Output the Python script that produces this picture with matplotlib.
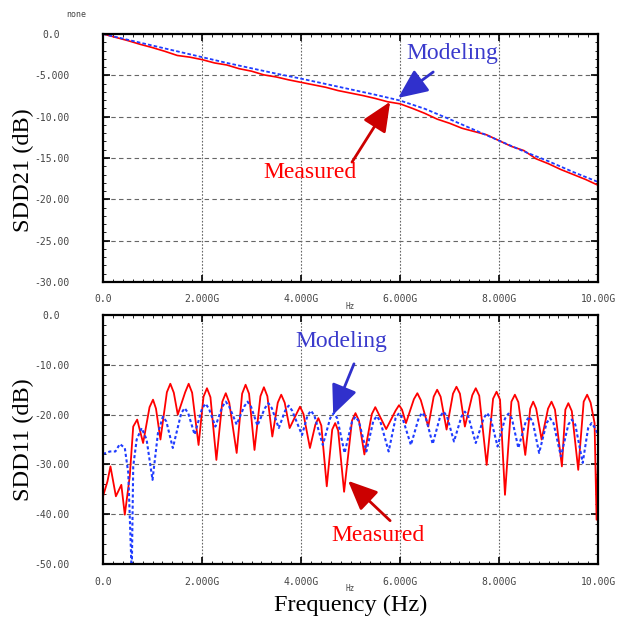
import matplotlib.pyplot as plt
import numpy as np

# --- SDD21 (insertion loss), GHz / dB ---
f21_meas = np.arange(0, 10.01, 0.25)
sdd21_meas = [0.0, -0.4, -0.8, -1.25, -1.65, -2.1, -2.6, -2.8, -3.1, -3.5,
              -3.75, -4.2, -4.5, -4.95, -5.2, -5.55, -5.85, -6.15, -6.45, -6.85,
              -7.15, -7.45, -7.8, -8.2, -8.45, -9.0, -9.6, -10.3, -10.8, -11.4,
              -11.8, -12.2, -12.9, -13.6, -14.1, -15.1, -15.7, -16.4, -17.0, -17.6,
              -18.3]
f21_mod = np.arange(0, 10.01, 0.5)
sdd21_mod = [0.0, -0.7, -1.4, -2.1, -2.8, -3.5, -4.15, -4.8, -5.4, -6.05,
             -6.7, -7.35, -8.05, -9.05, -10.3, -11.6, -12.9, -14.2, -15.4, -16.7,
             -17.9]

# --- SDD11 (return loss), GHz / dB ---
f11_meas = [0.0, 0.09, 0.15, 0.26, 0.37, 0.44, 0.54, 0.61, 0.69, 0.81,
            0.94, 1.01, 1.07, 1.16, 1.29, 1.36, 1.43, 1.51, 1.66, 1.73,
            1.80, 1.93, 2.03, 2.10, 2.17, 2.29, 2.41, 2.48, 2.55, 2.70,
            2.81, 2.88, 2.95, 3.06, 3.18, 3.25, 3.32, 3.42, 3.53, 3.60,
            3.67, 3.77, 3.91, 3.98, 4.05, 4.18, 4.29, 4.35, 4.41, 4.52,
            4.63, 4.69, 4.75, 4.87, 5.03, 5.10, 5.17, 5.28, 5.43, 5.50,
            5.57, 5.72, 5.91, 5.98, 6.04, 6.12, 6.28, 6.35, 6.42, 6.57,
            6.68, 6.75, 6.82, 6.94, 7.07, 7.14, 7.21, 7.31, 7.46, 7.53,
            7.60, 7.75, 7.88, 7.95, 8.02, 8.12, 8.25, 8.32, 8.39, 8.53,
            8.63, 8.69, 8.75, 8.86, 8.99, 9.06, 9.13, 9.27, 9.34, 9.40,
            9.47, 9.60, 9.71, 9.78, 9.85, 9.93, 9.97, 10.0]
sdd11_meas = [-36.4, -33.4, -30.4, -36.4, -34.1, -40.1, -32.4, -22.4, -21.0, -25.7,
              -18.5, -17.0, -18.8, -25.0, -15.5, -13.8, -15.6, -20.0, -15.5, -13.8,
              -15.6, -26.1, -16.4, -14.7, -16.5, -29.1, -17.4, -15.7, -17.6, -27.7,
              -15.8, -14.0, -15.8, -27.1, -16.3, -14.5, -16.3, -24.4, -17.6, -16.0,
              -17.6, -22.7, -19.8, -18.4, -19.9, -26.7, -22.0, -20.7, -22.2, -34.4,
              -23.0, -21.7, -23.2, -35.5, -21.2, -19.7, -21.2, -28.0, -19.9, -18.5,
              -19.9, -22.9, -19.2, -18.1, -19.0, -21.7, -16.9, -15.7, -17.1, -22.4,
              -16.4, -15.0, -16.4, -23.0, -15.8, -14.4, -15.8, -22.4, -16.1, -14.7,
              -16.2, -30.1, -16.8, -15.4, -17.0, -36.1, -17.4, -16.0, -17.5, -28.1,
              -18.8, -17.4, -18.8, -25.0, -18.8, -17.4, -19.0, -30.4, -19.0, -17.7,
              -19.3, -31.1, -17.4, -16.0, -17.6, -21.7, -41.1, -29.1]
f11_mod = [0.0, 0.14, 0.25, 0.34, 0.44, 0.51, 0.58, 0.61, 0.68, 0.78,
           0.88, 1.0, 1.11, 1.21, 1.28, 1.41, 1.58, 1.65, 1.72, 1.85,
           2.00, 2.07, 2.14, 2.27, 2.41, 2.48, 2.55, 2.70, 2.85, 2.92,
           2.99, 3.12, 3.27, 3.34, 3.41, 3.55, 3.68, 3.75, 3.82, 4.02,
           4.13, 4.20, 4.27, 4.44, 4.59, 4.66, 4.73, 4.88, 5.03, 5.10,
           5.17, 5.32, 5.46, 5.53, 5.60, 5.77, 5.91, 5.98, 6.05, 6.22,
           6.38, 6.45, 6.52, 6.66, 6.81, 6.88, 6.95, 7.09, 7.24, 7.31,
           7.38, 7.53, 7.69, 7.76, 7.83, 7.97, 8.12, 8.19, 8.26, 8.39,
           8.54, 8.61, 8.68, 8.81, 8.96, 9.03, 9.10, 9.25, 9.40, 9.47,
           9.54, 9.69, 9.80, 9.87, 9.94, 10.0]
sdd11_mod = [-27.9, -27.4, -27.4, -25.9, -26.7, -31.7, -52.0, -30.4, -25.0, -22.7,
             -25.0, -33.1, -23.7, -20.4, -21.4, -26.7, -19.7, -18.7, -19.7, -24.0,
             -18.8, -17.8, -18.8, -22.4, -18.4, -17.4, -18.4, -22.0, -18.4, -17.4,
             -18.4, -22.2, -18.7, -17.7, -18.7, -22.7, -19.2, -18.2, -19.2, -24.1,
             -20.2, -19.2, -20.2, -26.1, -20.7, -19.7, -20.7, -27.7, -21.4, -20.4,
             -21.4, -27.4, -21.3, -20.3, -21.3, -27.4, -20.7, -19.7, -20.7, -26.1,
             -20.6, -19.6, -20.6, -25.9, -20.4, -19.4, -20.4, -25.4, -20.4, -19.4,
             -20.4, -25.7, -20.7, -19.7, -20.7, -26.4, -20.8, -19.8, -20.8, -26.7,
             -21.4, -20.4, -21.4, -27.7, -21.7, -20.7, -21.7, -28.4, -22.0, -21.0,
             -22.0, -29.7, -22.7, -21.7, -22.7, -24.0]

x_ticks = [0, 2, 4, 6, 8, 10]
x_labels = ["0.0", "2.000G", "4.000G", "6.000G", "8.000G", "10.00G"]
y21_ticks = [0, -5, -10, -15, -20, -25, -30]
y21_labels = ["0.0", "-5.000", "-10.00", "-15.00", "-20.00", "-25.00", "-30.00"]
y11_ticks = [0, -10, -20, -30, -40, -50]
y11_labels = ["0.0", "-10.00", "-20.00", "-30.00", "-40.00", "-50.00"]

RED = "#ff0000"
BLUE = "#1f3cff"
TXT_BLUE = "#3a3acc"
ARR_BLUE = "#3030cc"
ARR_RED = "#cc0000"
mono = "DejaVu Sans Mono"
serif = "Liberation Serif"

fig = plt.figure(figsize=(6.18, 6.20), dpi=100)
ax1 = fig.add_axes([0.1667, 0.5452, 0.801, 0.400])
ax2 = fig.add_axes([0.1667, 0.0903, 0.801, 0.4016])


def style_axes(ax, yticks, ylabels, ylim, yminor):
    ax.set_xlim(0, 10)
    ax.set_ylim(*ylim)
    ax.set_xticks(x_ticks)
    ax.set_xticklabels(x_labels, family=mono, fontsize=7, color="#444444")
    ax.set_xticks(np.arange(0, 10.01, 0.2), minor=True)
    ax.set_yticks(yticks)
    ax.set_yticklabels(ylabels, family=mono, fontsize=7, color="#444444")
    ax.set_yticks(np.arange(ylim[0], ylim[1] + 0.01, yminor), minor=True)
    for lab in ax.get_yticklabels():
        lab.set_horizontalalignment("center")
    ax.tick_params(which="both", direction="in", top=True, right=True)
    ax.tick_params(which="major", length=5, width=1.2)
    ax.tick_params(which="minor", length=2.5, width=0.6)
    ax.tick_params(axis="y", which="major", pad=37)
    ax.tick_params(axis="x", which="major", pad=9)
    for sp in ax.spines.values():
        sp.set_linewidth(1.6)
    for y in yticks[1:-1]:
        ax.axhline(y, color="#666666", lw=0.8, ls=(0, (4, 3)), zorder=0)
    for x in x_ticks[1:-1]:
        ax.axvline(x, color="#666666", lw=0.8, ls=(0, (1.5, 1.5)), zorder=0)
    ax.text(0.5, -0.098, "Hz", transform=ax.transAxes, ha="center", va="center",
            family=mono, fontsize=5.5, color="#444444")


# top panel
style_axes(ax1, y21_ticks, y21_labels, (-30, 0), 1)
ax1.plot(f21_meas, sdd21_meas, color=RED, lw=1.2)
ax1.plot(f21_mod, sdd21_mod, color=BLUE, lw=1.3, ls=(0, (2, 1.2)))
ax1.set_ylabel("SDD21 (dB)", family=serif, fontsize=17.5)
ax1.yaxis.set_label_coords(-0.14, 0.45)
ax1.text(-0.055, 1.08, "none", transform=ax1.transAxes, ha="center", va="center",
         family=mono, fontsize=6, color="#444444")

arr = "-|>,head_length=0.9,head_width=0.4"
ax1.annotate("", xy=(5.96, -7.74), xytext=(6.67, -4.6),
             arrowprops=dict(arrowstyle=arr, mutation_scale=20, color=ARR_BLUE,
                             lw=2, shrinkA=0, shrinkB=0))
ax1.text(7.05, -2.4, "Modeling", color=TXT_BLUE, family=serif, fontsize=17,
         ha="center", va="center")
ax1.annotate("", xy=(5.80, -8.2), xytext=(5.03, -15.5),
             arrowprops=dict(arrowstyle=arr, mutation_scale=20, color=ARR_RED,
                             lw=2, shrinkA=0, shrinkB=0))
ax1.text(4.18, -16.8, "Measured", color=RED, family=serif, fontsize=17,
         ha="center", va="center")

# bottom panel
style_axes(ax2, y11_ticks, y11_labels, (-50, 0), 2)
ax2.plot(f11_meas, sdd11_meas, color=RED, lw=1.3)
ax2.plot(f11_mod, sdd11_mod, color=BLUE, lw=1.5, ls=(0, (1.5, 1.2)))
ax2.set_ylabel("SDD11 (dB)", family=serif, fontsize=17.5)
ax2.yaxis.set_label_coords(-0.14, 0.5)
ax2.set_xlabel("Frequency (Hz)", family=serif, fontsize=17.5)
ax2.xaxis.set_label_coords(0.5, -0.125)

ax2.annotate("", xy=(4.65, -20.0), xytext=(5.07, -9.8),
             arrowprops=dict(arrowstyle=arr, mutation_scale=20, color=ARR_BLUE,
                             lw=2, shrinkA=0, shrinkB=0))
ax2.text(4.81, -5.4, "Modeling", color=TXT_BLUE, family=serif, fontsize=17,
         ha="center", va="center")
ax2.annotate("", xy=(4.95, -33.3), xytext=(5.80, -41.3),
             arrowprops=dict(arrowstyle=arr, mutation_scale=20, color=ARR_RED,
                             lw=2, shrinkA=0, shrinkB=0))
ax2.text(5.56, -44.3, "Measured", color=RED, family=serif, fontsize=17,
         ha="center", va="center")

fig.savefig("out.png", dpi=100)
